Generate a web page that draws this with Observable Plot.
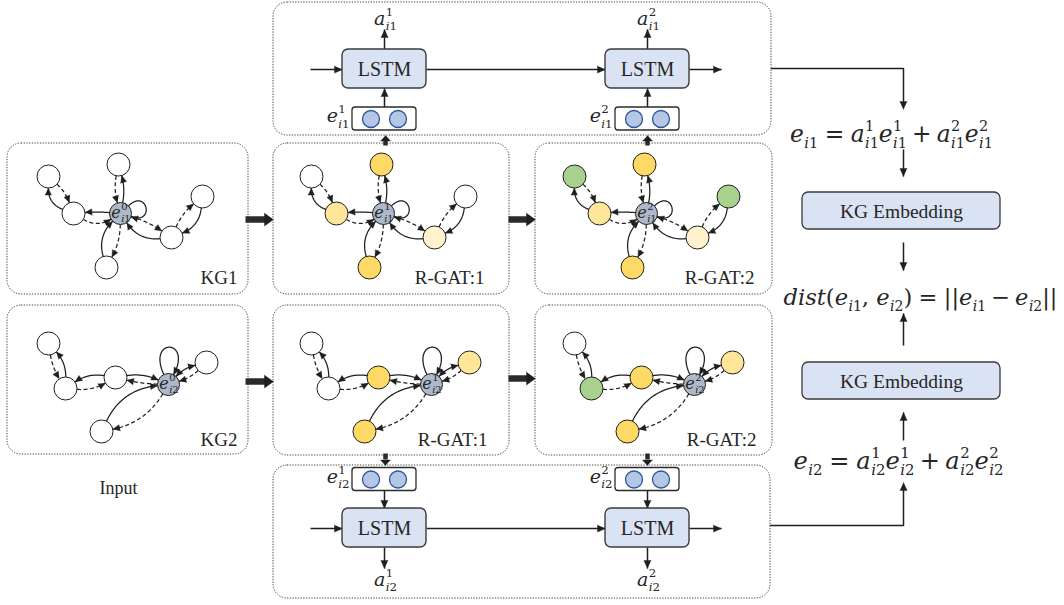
<!DOCTYPE html>
<html><head><meta charset="utf-8">
<script src="https://cdn.jsdelivr.net/npm/d3@7"></script>
<script src="https://cdn.jsdelivr.net/npm/@observablehq/plot@0.6"></script>
<style>body{margin:0;background:#fff}svg{display:block}</style>
</head><body><div id="chart"></div>
<script>
// ---------------- data ----------------
const stageOffsets = [0, 263, 526];
const stageLabels1 = ["KG1", "R-GAT:1", "R-GAT:2"];
const stageLabels2 = ["KG2", "R-GAT:1", "R-GAT:2"];
const stageLabelX1 = [237, 484, 754];
const stageLabelX2 = [237, 487, 756];

// graph 1 (top row)
const g1Ids = ["c", "t", "lt", "lm", "b", "rb", "rt"];
const g1X = [120, 118, 48, 73, 106, 171, 202];
const g1Y = [213, 164, 176, 213, 267, 237, 196];
const g1Colors = [
  ["#adb9ca", "#ffffff", "#ffffff", "#ffffff", "#ffffff", "#ffffff", "#ffffff"],
  ["#adb9ca", "#ffd966", "#ffffff", "#ffe699", "#ffd966", "#fff2cc", "#ffffff"],
  ["#adb9ca", "#ffd966", "#a9d18e", "#ffe699", "#ffd966", "#fff2cc", "#a9d18e"]
];
// [from, to, dashed, bend, bothHeads]
const g1Edges = [
  ["c", "t", 0, 0.12], ["t", "c", 1, 0.12],
  ["c", "lm", 0, 0.04], ["lm", "c", 1, 0.3],
  ["lm", "lt", 0, -0.35], ["lt", "lm", 1, -0.12],
  ["c", "rb", 1, -0.08], ["rb", "c", 0, -0.3],
  ["rt", "rb", 0, -0.3], ["rb", "rt", 1, -0.12],
  ["b", "c", 0, -0.3], ["c", "b", 1, -0.12]
];
const g1Loop = {node: "c", a1: -44, a2: 18, len: 37};

// graph 2 (bottom row)
const g2Ids = ["c", "lt", "lm", "m", "r", "b"];
const g2X = [168, 48, 65, 115, 206, 101];
const g2Y = [384, 343, 388, 377, 362, 431];
const g2Colors = [
  ["#adb9ca", "#ffffff", "#ffffff", "#ffffff", "#ffffff", "#ffffff"],
  ["#adb9ca", "#ffffff", "#ffffff", "#ffd966", "#ffe699", "#ffd966"],
  ["#adb9ca", "#ffffff", "#a9d18e", "#ffd966", "#ffe699", "#ffd966"]
];
const g2Edges = [
  ["lm", "lt", 0, 0.2], ["lt", "lm", 1, 0.1],
  ["m", "lm", 0, 0.2], ["lm", "m", 1, 0.15],
  ["m", "c", 0, -0.15], ["c", "m", 1, -0.05],
  ["c", "r", 0, -0.15, 1], ["r", "c", 1, -0.12],
  ["b", "c", 0, -0.28], ["c", "b", 1, -0.22]
];
const g2Loop = {node: "c", a1: -115, a2: -62, len: 52};

// dotted group boxes
const boxX1 = [273, 7, 273, 535, 7, 273, 535, 273];
const boxY1 = [2, 143, 143, 143, 305, 305, 305, 465];
const boxX2 = [771, 248, 509, 772, 248, 509, 772, 770];
const boxY2 = [135, 294, 294, 294, 454, 455, 455, 598];

// LSTM rows
const lstmCenters = [384, 647];
const lstmRowY = [69, 528];
const embRowY = [118.5, 479];
const stepLabels = ["1", "2"];
const rowSubs = ["i1", "i2"];

// right column
const kgEmbY = [211, 381];

// formulas: string = text (letters italic), [base, sup, sub], {op, pad}
const eq1 = [["e", null, "i1"], {op: "=", pad: 0.28}, ["a", "1", "i1"], ["e", "1", "i1"], {op: "+", pad: 0.22}, ["a", "2", "i1"], ["e", "2", "i1"]];
const eq2 = [["e", null, "i2"], {op: "=", pad: 0.28}, ["a", "1", "i2"], ["e", "1", "i2"], {op: "+", pad: 0.22}, ["a", "2", "i2"], ["e", "2", "i2"]];
const eqDist = ["dist(", ["e", null, "i1"], ", ", ["e", null, "i2"], ")", {op: "=", pad: 0.28}, "||", ["e", null, "i1"], {op: "\u2212", pad: 0.22}, ["e", null, "i2"], "||"];

// ---------------- helpers ----------------
const INK = "#1f1f1f";
const SERIF = '"Liberation Serif", serif';
const MATH = '"DejaVu Serif", serif';
const ctx = document.createElement("canvas").getContext("2d");
function tw(s, size, it) { ctx.font = `${it ? "italic " : ""}${size}px ${MATH}`; return ctx.measureText(s).width; }
function runs(s) {
  const out = [];
  for (const ch of s) {
    const it = /[a-z]/i.test(ch);
    if (out.length && out[out.length - 1].it === it) out[out.length - 1].s += ch; else out.push({s: ch, it});
  }
  return out;
}
function layoutMath(tokens, size) {
  let x = 0; const pieces = [];
  const put = (s, sz, dy) => { for (const r of runs(s)) { pieces.push({x, dy, s: r.s, it: r.it, size: sz}); x += tw(r.s, sz, r.it); } };
  for (const t of tokens) {
    if (typeof t === "string") put(t, size, 0);
    else if (Array.isArray(t)) {
      put(t[0], size, 0);
      const x0 = x + size * 0.02; let w = 0; const ss = size * 0.62;
      if (t[1]) { x = x0; put(t[1], ss, -0.45 * size); w = Math.max(w, x - x0); }
      if (t[2]) { x = x0; put(t[2], ss, 0.29 * size); w = Math.max(w, x - x0); }
      x = x0 + w;
    } else { x += t.pad * size; put(t.op, size, 0); x += t.pad * size; }
  }
  return {pieces, width: x};
}
const mathPieces = [];
function placeMath(tokens, size, x, baseline, anchor = "middle", targetWidth = null) {
  let L = layoutMath(tokens, size);
  if (targetWidth) { size = size * targetWidth / L.width; L = layoutMath(tokens, size); }
  const x0 = anchor === "middle" ? x - L.width / 2 : anchor === "end" ? x - L.width : x;
  for (const p of L.pieces) mathPieces.push({x: x0 + p.x, y: baseline + p.dy, text: p.s, it: p.it, size: p.size});
}

const solid = [], dashed = [], heads = [];
let eid = 0;
function addHead(tip, from, Lh = 7, W = 3.2) {
  const dx = tip.x - from.x, dy = tip.y - from.y, len = Math.hypot(dx, dy);
  const ux = dx / len, uy = dy / len; const id = eid++;
  heads.push({id, x: tip.x, y: tip.y}, {id, x: tip.x - Lh * ux - W * uy, y: tip.y - Lh * uy + W * ux}, {id, x: tip.x - Lh * ux + W * uy, y: tip.y - Lh * uy - W * ux});
}
function toward(A, P, r) { const dx = P.x - A.x, dy = P.y - A.y, l = Math.hypot(dx, dy); return {x: A.x + r * dx / l, y: A.y + r * dy / l}; }
function addEdge(A, B, isDashed, bend, both) {
  const dx = B.x - A.x, dy = B.y - A.y, len = Math.hypot(dx, dy);
  const nx = -dy / len, ny = dx / len;
  const C = {x: (A.x + B.x) / 2 + nx * bend * len, y: (A.y + B.y) / 2 + ny * bend * len};
  const pa = toward(A, C, A.r), pb = toward(B, C, B.r);
  const id = eid++; const arr = isDashed ? dashed : solid;
  for (let i = 0; i <= 24; i++) {
    const t = i / 24;
    arr.push({id, x: (1 - t) ** 2 * pa.x + 2 * (1 - t) * t * C.x + t * t * pb.x, y: (1 - t) ** 2 * pa.y + 2 * (1 - t) * t * C.y + t * t * pb.y});
  }
  addHead(pb, C); if (both) addHead(pa, C);
}
function addLoop(A, a1, a2, L) {
  const u = a => ({x: Math.cos(a * Math.PI / 180), y: Math.sin(a * Math.PI / 180)});
  const p0 = {x: A.x + A.r * u(a1).x, y: A.y + A.r * u(a1).y};
  const p3 = {x: A.x + A.r * u(a2).x, y: A.y + A.r * u(a2).y};
  const c1 = {x: A.x + L * u(a1).x, y: A.y + L * u(a1).y};
  const c2 = {x: A.x + L * u(a2).x, y: A.y + L * u(a2).y};
  const id = eid++;
  for (let i = 0; i <= 30; i++) {
    const t = i / 30, s = 1 - t;
    solid.push({id, x: s * s * s * p0.x + 3 * s * s * t * c1.x + 3 * s * t * t * c2.x + t * t * t * p3.x,
                    y: s * s * s * p0.y + 3 * s * s * t * c1.y + 3 * s * t * t * c2.y + t * t * t * p3.y});
  }
  addHead(p3, c2);
}

// ---------------- build graphs ----------------
const nodes = [];
function buildGraph(ids, xs, ys, colors, edges, loop, stage, sub) {
  const dx = stageOffsets[stage]; const m = {};
  ids.forEach((id, i) => { m[id] = {x: xs[i] + dx, y: ys[i], r: id === "c" ? 11 : 11.5}; nodes.push({x: m[id].x, y: m[id].y, r: m[id].r, fill: colors[stage][i]}); });
  for (const e of edges) addEdge(m[e[0]], m[e[1]], e[2], e[3], e[4]);
  addLoop(m[loop.node], loop.a1, loop.a2, loop.len);
  placeMath([["e", String(stage), sub]], 16, m.c.x + 0.5, m.c.y + 4, "middle");
}
for (let s = 0; s < 3; s++) {
  buildGraph(g1Ids, g1X, g1Y, g1Colors, g1Edges, g1Loop, s, "i1");
  buildGraph(g2Ids, g2X, g2Y, g2Colors, g2Edges, g2Loop, s, "i2");
}

// ---------------- LSTM rows ----------------
const lstmBoxes = [], embBoxes = [], embDots = [], thinArrows = [], texts = [];
lstmRowY.forEach((y, r) => {
  const up = r === 0;
  lstmCenters.forEach((cx, k) => {
    lstmBoxes.push({x1: cx - 42, x2: cx + 42, y1: y - 20, y2: y + 19});
    texts.push({x: cx, y: y, text: "LSTM", size: 20});
    const ey = embRowY[r];
    embBoxes.push({x1: cx - 32, x2: cx + 32, y1: ey - 11.5, y2: ey + 11.5});
    embDots.push({x: cx - 13.5, y: ey}, {x: cx + 13.5, y: ey});
    if (up) thinArrows.push([cx, ey - 11.5, cx, y + 19]); else thinArrows.push([cx, ey + 11.5, cx, y - 20]);
    if (up) { thinArrows.push([cx, y - 20, cx, y - 40]); placeMath([["a", stepLabels[k], rowSubs[r]]], 19, cx + 1, y - 45, "middle"); }
    else { thinArrows.push([cx, y + 19, cx, y + 40]); placeMath([["a", stepLabels[k], rowSubs[r]]], 19, cx + 1, y + 57, "middle"); }
    placeMath([["e", stepLabels[k], rowSubs[r]]], 19, cx - 35, ey + 3, "end");
  });
  thinArrows.push([310, y, lstmCenters[0] - 42, y]);
  thinArrows.push([lstmCenters[0] + 42, y, lstmCenters[1] - 42, y]);
  thinArrows.push([lstmCenters[1] + 42, y, 721, y]);
});

// right column
const kgBoxes = kgEmbY.map(y => ({x1: 802, x2: 1000, y1: y - 19, y2: y + 18}));
kgEmbY.forEach(y => texts.push({x: 901, y, text: "KG Embedding", size: 19.5}));
thinArrows.push([903, 149, 903, 176], [903, 242, 903, 270], [903, 345, 903, 313], [903, 440, 903, 412]);
const connectors = [
  {id: 0, x: 771, y: 68}, {id: 0, x: 903, y: 68}, {id: 0, x: 903, y: 102},
  {id: 1, x: 770, y: 525}, {id: 1, x: 903, y: 525}, {id: 1, x: 903, y: 489}
];
addHead({x: 903, y: 109}, {x: 903, y: 68}, 8, 3.6);
addHead({x: 903, y: 482}, {x: 903, y: 525}, 8, 3.6);
placeMath(eq1, 20, 891, 141, "middle", 203);
placeMath(eqDist, 20, 920, 304, "middle", 274);
placeMath(eq2, 20, 898, 468, "middle", 210);

// thin arrow heads
const links = thinArrows.map(([x1, y1, x2, y2]) => ({x1, y1, x2, y2}));
thinArrows.forEach(([x1, y1, x2, y2]) => addHead({x: x2, y: y2}, {x: x1, y: y1}, 8, 3.6));

// thick arrows between stages
const thick = [[245, 219, 273, 219], [508, 219, 535, 219], [245, 381, 273, 381], [508, 378, 535, 378]];
const thickLinks = thick.map(([x1, y1, x2, y2]) => ({x1, y1, x2: x2 - 7, y2}));
thick.forEach(([x1, y1, x2, y2]) => addHead({x: x2, y: y2}, {x: x1, y: y1}, 9, 6.5));
const stub = [[385, 145, 385, 135], [647, 145, 647, 135], [385, 453, 385, 465], [647, 453, 647, 465]];
const stubLinks = stub.map(([x1, y1, x2, y2]) => ({x1, y1, x2, y2: y2 + (y1 - y2) * 0.5}));
stub.forEach(([x1, y1, x2, y2]) => addHead({x: x2, y: y2}, {x: x1, y: y1}, 5.5, 5));

// stage labels
const stageTexts = [];
stageLabels1.forEach((t, i) => stageTexts.push({x: stageLabelX1[i], y: 283, text: t}));
stageLabels2.forEach((t, i) => stageTexts.push({x: stageLabelX2[i], y: 445, text: t}));

const groupBoxes = boxX1.map((x1, i) => ({x1, y1: boxY1[i], x2: boxX2[i], y2: boxY2[i]}));

// ---------------- plot ----------------
const chart = Plot.plot({
  width: 1064, height: 605, margin: 0,
  x: {domain: [0, 1064], range: [0, 1064], axis: null},
  y: {domain: [0, 605], range: [0, 605], axis: null},
  r: {type: "identity"},
  style: {background: "#fff"},
  marks: [
    Plot.rect(groupBoxes, {x1: "x1", x2: "x2", y1: "y1", y2: "y2", rx: 14, fill: "none", stroke: "#444", strokeWidth: 1, strokeDasharray: "1.3,1.4"}),
    Plot.link(thickLinks, {x1: "x1", y1: "y1", x2: "x2", y2: "y2", stroke: "#2b2b2b", strokeWidth: 6.5, strokeLinecap: "butt"}),
    Plot.link(stubLinks, {x1: "x1", y1: "y1", x2: "x2", y2: "y2", stroke: "#2b2b2b", strokeWidth: 4.5, strokeLinecap: "butt"}),
    Plot.line(solid, {x: "x", y: "y", z: "id", stroke: INK, strokeWidth: 1.25}),
    Plot.line(dashed, {x: "x", y: "y", z: "id", stroke: INK, strokeWidth: 1.25, strokeDasharray: "4,2.6", strokeLinecap: "butt"}),
    Plot.link(links, {x1: "x1", y1: "y1", x2: "x2", y2: "y2", stroke: INK, strokeWidth: 1.5}),
    Plot.line(connectors, {x: "x", y: "y", z: "id", stroke: INK, strokeWidth: 1.5, strokeLinejoin: "miter"}),
    Plot.line(heads, {x: "x", y: "y", z: "id", fill: INK, stroke: INK, strokeWidth: 0.4}),
    Plot.dot(nodes, {x: "x", y: "y", r: "r", fill: "fill", stroke: INK, strokeWidth: 1}),
    Plot.rect(lstmBoxes, {x1: "x1", x2: "x2", y1: "y1", y2: "y2", rx: 6, fill: "#dae3f3", stroke: "#3b3b3b", strokeWidth: 1.4}),
    Plot.rect(kgBoxes, {x1: "x1", x2: "x2", y1: "y1", y2: "y2", rx: 6, fill: "#dae3f3", stroke: "#3b3b3b", strokeWidth: 1.3}),
    Plot.rect(embBoxes, {x1: "x1", x2: "x2", y1: "y1", y2: "y2", rx: 3, fill: "#fff", stroke: "#2b2b2b", strokeWidth: 1.3}),
    Plot.dot(embDots, {x: "x", y: "y", r: 8.5, fill: "#b4c7e7", stroke: "#2f5597", strokeWidth: 1.3}),
    Plot.text(texts, {x: "x", y: "y", text: "text", fontSize: "size", fontFamily: SERIF, fill: "#262626", textAnchor: "middle", lineAnchor: "middle"}),
    Plot.text(stageTexts, {x: "x", y: "y", text: "text", fontSize: 19, fontFamily: SERIF, fill: "#262626", textAnchor: "end", lineAnchor: "bottom"}),
    Plot.text([{x: 118, y: 493, text: "Input"}], {x: "x", y: "y", text: "text", fontSize: 18, fontFamily: SERIF, fill: "#262626", textAnchor: "middle", lineAnchor: "bottom"}),
    Plot.text(mathPieces.filter(d => d.it), {x: "x", y: "y", text: "text", fontSize: "size", fontFamily: MATH, fontStyle: "italic", fill: "#262626", textAnchor: "start", lineAnchor: "bottom"}),
    Plot.text(mathPieces.filter(d => !d.it), {x: "x", y: "y", text: "text", fontSize: "size", fontFamily: MATH, fill: "#262626", textAnchor: "start", lineAnchor: "bottom"})
  ]
});
document.getElementById("chart").appendChild(chart);
</script></body></html>
